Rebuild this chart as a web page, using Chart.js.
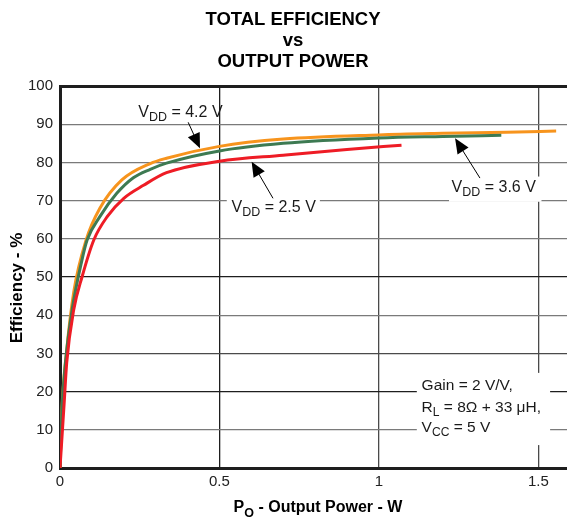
<!DOCTYPE html>
<html>
<head>
<meta charset="utf-8">
<script src="https://cdn.jsdelivr.net/npm/chart.js@4.4.1/dist/chart.umd.min.js"></script>
<style>
  html, body { margin: 0; padding: 0; background: #fff; }
  #wrap { width: 567px; height: 522px; }
</style>
</head>
<body>
<div id="wrap"><canvas id="eff-chart" width="567" height="522"></canvas></div>
<script>
// Efficiency curves (x = output power in W, y = efficiency in %)
const power42 = [0, 0.006, 0.02, 0.043, 0.082, 0.125, 0.194, 0.283, 0.334, 0.5, 0.7, 1.0, 1.2, 1.4, 1.556];
const eff42   = [0, 15.5, 30, 46, 59.7, 68, 75.4, 79.7, 81.1, 84.2, 86.1, 87.2, 87.6, 87.9, 88.2];

const power36 = [0, 0.006, 0.017, 0.038, 0.069, 0.085, 0.125, 0.178, 0.23, 0.283, 0.334, 0.5, 0.7, 1.0, 1.2, 1.384];
const eff36   = [0, 15, 27.5, 41.4, 54.5, 59.7, 65.8, 71.9, 76.0, 78.2, 79.8, 83.0, 85.0, 86.4, 86.8, 87.1];

const power25 = [0, 0.013, 0.021, 0.043, 0.069, 0.106, 0.148, 0.2, 0.262, 0.334, 0.5, 0.7, 0.9, 1.071];
const eff25   = [0, 16.9, 27.5, 41.4, 50, 59.7, 65.8, 70.6, 74, 77.3, 80.3, 81.9, 83.4, 84.5];

const xTicks = [0, 0.5, 1, 1.5];
const xTickLabels = ['0', '0.5', '1', '1.5'];
const yTicks = [0, 10, 20, 30, 40, 50, 60, 70, 80, 90, 100];

function toPoints(xs, ys) {
  return xs.map(function(x, i) { return { x: x, y: ys[i] }; });
}

const FONT = '"Liberation Sans", Arial, Helvetica, sans-serif';

// text pieces: [text, isSubscript]
function drawRich(ctx, parts, x, y, size) {
  var cx = x;
  parts.forEach(function(p) {
    if (p[1]) {
      ctx.font = (size * 0.78) + 'px ' + FONT;
      ctx.fillText(p[0], cx, y + 4);
    } else {
      ctx.font = size + 'px ' + FONT;
      ctx.fillText(p[0], cx, y);
    }
    cx += ctx.measureText(p[0]).width;
  });
}

function arrow(ctx, x1, y1, x2, y2) {
  var ang = Math.atan2(y2 - y1, x2 - x1);
  var len = 15, half = 6.5;
  ctx.strokeStyle = '#000';
  ctx.lineWidth = 1;
  ctx.beginPath();
  ctx.moveTo(x1, y1);
  ctx.lineTo(x2 - Math.cos(ang) * len * 0.8, y2 - Math.sin(ang) * len * 0.8);
  ctx.stroke();
  ctx.fillStyle = '#000';
  ctx.beginPath();
  ctx.moveTo(x2, y2);
  ctx.lineTo(x2 - Math.cos(ang) * len - Math.sin(ang) * half, y2 - Math.sin(ang) * len + Math.cos(ang) * half);
  ctx.lineTo(x2 - Math.cos(ang) * len + Math.sin(ang) * half, y2 - Math.sin(ang) * len - Math.cos(ang) * half);
  ctx.closePath();
  ctx.fill();
}

// callouts, placed in data units
const labels = [
  { parts: [['V', 0], ['DD', 1], [' = 4.2 V', 0]], x: 0.2455, y: 91.9, box: null,
    from: [0.402, 90.5], to: [0.439, 83.7] },
  { parts: [['V', 0], ['DD', 1], [' = 2.5 V', 0]], x: 0.538, y: 67.0, box: [0.523, 0.815, 72.0, 66.0],
    from: [0.668, 70.6], to: [0.601, 80.2] },
  { parts: [['V', 0], ['DD', 1], [' = 3.6 V', 0]], x: 1.228, y: 72.3, box: [1.220, 1.510, 76.3, 69.7],
    from: [1.317, 75.9], to: [1.239, 86.3] }
];

const annotationPlugin = {
  id: 'annot',
  beforeDatasetsDraw: function(chart) {
    var ctx = chart.ctx, xs = chart.scales.x, ys = chart.scales.y;
    ctx.save();
    ctx.fillStyle = '#fff';
    labels.forEach(function(l) {
      if (!l.box) return;
      var x1 = xs.getPixelForValue(l.box[0]), x2 = xs.getPixelForValue(l.box[1]);
      var y1 = ys.getPixelForValue(l.box[2]), y2 = ys.getPixelForValue(l.box[3]);
      ctx.fillRect(x1, y1, x2 - x1, y2 - y1);
    });
    // condition box
    var gx1 = xs.getPixelForValue(1.119), gx2 = xs.getPixelForValue(1.537);
    var gy1 = ys.getPixelForValue(24.9), gy2 = ys.getPixelForValue(6.0);
    ctx.fillRect(gx1, gy1, gx2 - gx1, gy2 - gy1);
    ctx.restore();
  },
  afterDatasetsDraw: function(chart) {
    var ctx = chart.ctx, xs = chart.scales.x, ys = chart.scales.y;
    ctx.save();
    ctx.textBaseline = 'alphabetic';
    ctx.textAlign = 'left';
    labels.forEach(function(l) {
      ctx.fillStyle = '#1a1a1a';
      drawRich(ctx, l.parts, xs.getPixelForValue(l.x), ys.getPixelForValue(l.y), 16);
      arrow(ctx, xs.getPixelForValue(l.from[0]), ys.getPixelForValue(l.from[1]),
                 xs.getPixelForValue(l.to[0]), ys.getPixelForValue(l.to[1]));
    });
    ctx.fillStyle = '#1a1a1a';
    var tx = xs.getPixelForValue(1.134);
    drawRich(ctx, [['Gain = 2 V/V,', 0]], tx, ys.getPixelForValue(20.4), 15.5);
    drawRich(ctx, [['R', 0], ['L', 1], [' = 8\u03A9 + 33 \u03BCH,', 0]], tx, ys.getPixelForValue(14.7), 15.5);
    drawRich(ctx, [['V', 0], ['CC', 1], [' = 5 V', 0]], tx, ys.getPixelForValue(9.5), 15.5);

    // titles
    ctx.fillStyle = '#000';
    ctx.textAlign = 'center';
    ctx.font = 'bold 18.5px ' + FONT;
    ctx.fillText('TOTAL EFFICIENCY', 293, 25);
    ctx.fillText('vs', 293, 45.5);
    ctx.fillText('OUTPUT POWER', 293, 66.5);

    // x axis title with subscript
    ctx.textAlign = 'left';
    ctx.font = 'bold 16px ' + FONT;
    var pW = ctx.measureText('P').width;
    ctx.font = 'bold 12.5px ' + FONT;
    var oW = ctx.measureText('O').width;
    ctx.font = 'bold 16px ' + FONT;
    var rest = ' - Output Power - W';
    var total = pW + oW + ctx.measureText(rest).width;
    var sx = 318 - total / 2;
    ctx.fillText('P', sx, 512);
    ctx.font = 'bold 12.5px ' + FONT;
    ctx.fillText('O', sx + pW, 517);
    ctx.font = 'bold 16px ' + FONT;
    ctx.fillText(rest, sx + pW + oW, 512);

    // y axis title
    ctx.save();
    ctx.translate(22, 288);
    ctx.rotate(-Math.PI / 2);
    ctx.textAlign = 'center';
    ctx.font = 'bold 17px ' + FONT;
    ctx.fillText('Efficiency - %', 0, 0);
    ctx.restore();
    ctx.restore();
  }
};

function yGridColor(ctx) {
  var v = ctx.tick ? ctx.tick.value : 0;
  if (v === 100 || v === 20 || v === 50) return '#1e1e1e';
  if (v === 30) return '#4a4a4a';
  return '#7a7a7a';
}
function xGridColor(ctx) {
  var v = ctx.tick ? ctx.tick.value : 0;
  if (v === 0.5) return '#1e1e1e';
  return '#4a4a4a';
}

const ctx_eff = document.getElementById('eff-chart').getContext('2d');
new Chart(ctx_eff, {
  type: 'scatter',
  data: {
    datasets: [
      { label: 'VDD = 2.5 V', data: toPoints(power25, eff25), borderColor: '#ee1c25', order: 0 },
      { label: 'VDD = 3.6 V', data: toPoints(power36, eff36), borderColor: '#3d7a52', order: 1 },
      { label: 'VDD = 4.2 V', data: toPoints(power42, eff42), borderColor: '#f7941d', order: 2 }
    ].map(function(d) {
      d.showLine = true;
      d.borderWidth = 3;
      d.pointRadius = 0;
      d.cubicInterpolationMode = 'monotone';
      d.fill = false;
      return d;
    })
  },
  options: {
    responsive: false,
    animation: false,
    devicePixelRatio: 1,
    layout: { padding: { top: 86, left: 0, right: 0, bottom: 0 } },
    plugins: {
      legend: { display: false },
      tooltip: { enabled: false },
      title: { display: false }
    },
    scales: {
      x: {
        type: 'linear',
        min: 0,
        max: 1.59,
        afterFit: function(s) { s.height = 54; },
        afterBuildTicks: function(s) { s.ticks = xTicks.map(function(v) { return { value: v }; }); },
        ticks: {
          font: { family: FONT, size: 15 }, color: '#222', padding: 5, maxRotation: 0,
          callback: function(value) {
            var i = xTicks.indexOf(value);
            return i >= 0 ? xTickLabels[i] : '';
          }
        },
        grid: { color: xGridColor, lineWidth: 1.3, drawTicks: false },
        border: { display: true, color: '#1e1e1e', width: 3 }
      },
      y: {
        type: 'linear',
        min: 0,
        max: 100,
        afterFit: function(s) { s.width = 60; },
        afterBuildTicks: function(s) { s.ticks = yTicks.map(function(v) { return { value: v }; }); },
        ticks: { font: { family: FONT, size: 15 }, color: '#222', padding: 7 },
        grid: {
          color: yGridColor,
          lineWidth: function(c) { return (c.tick && c.tick.value === 100) ? 3 : 1.3; },
          drawTicks: false
        },
        border: { display: true, color: '#1e1e1e', width: 3 }
      }
    }
  },
  plugins: [annotationPlugin]
});
</script>
</body>
</html>
